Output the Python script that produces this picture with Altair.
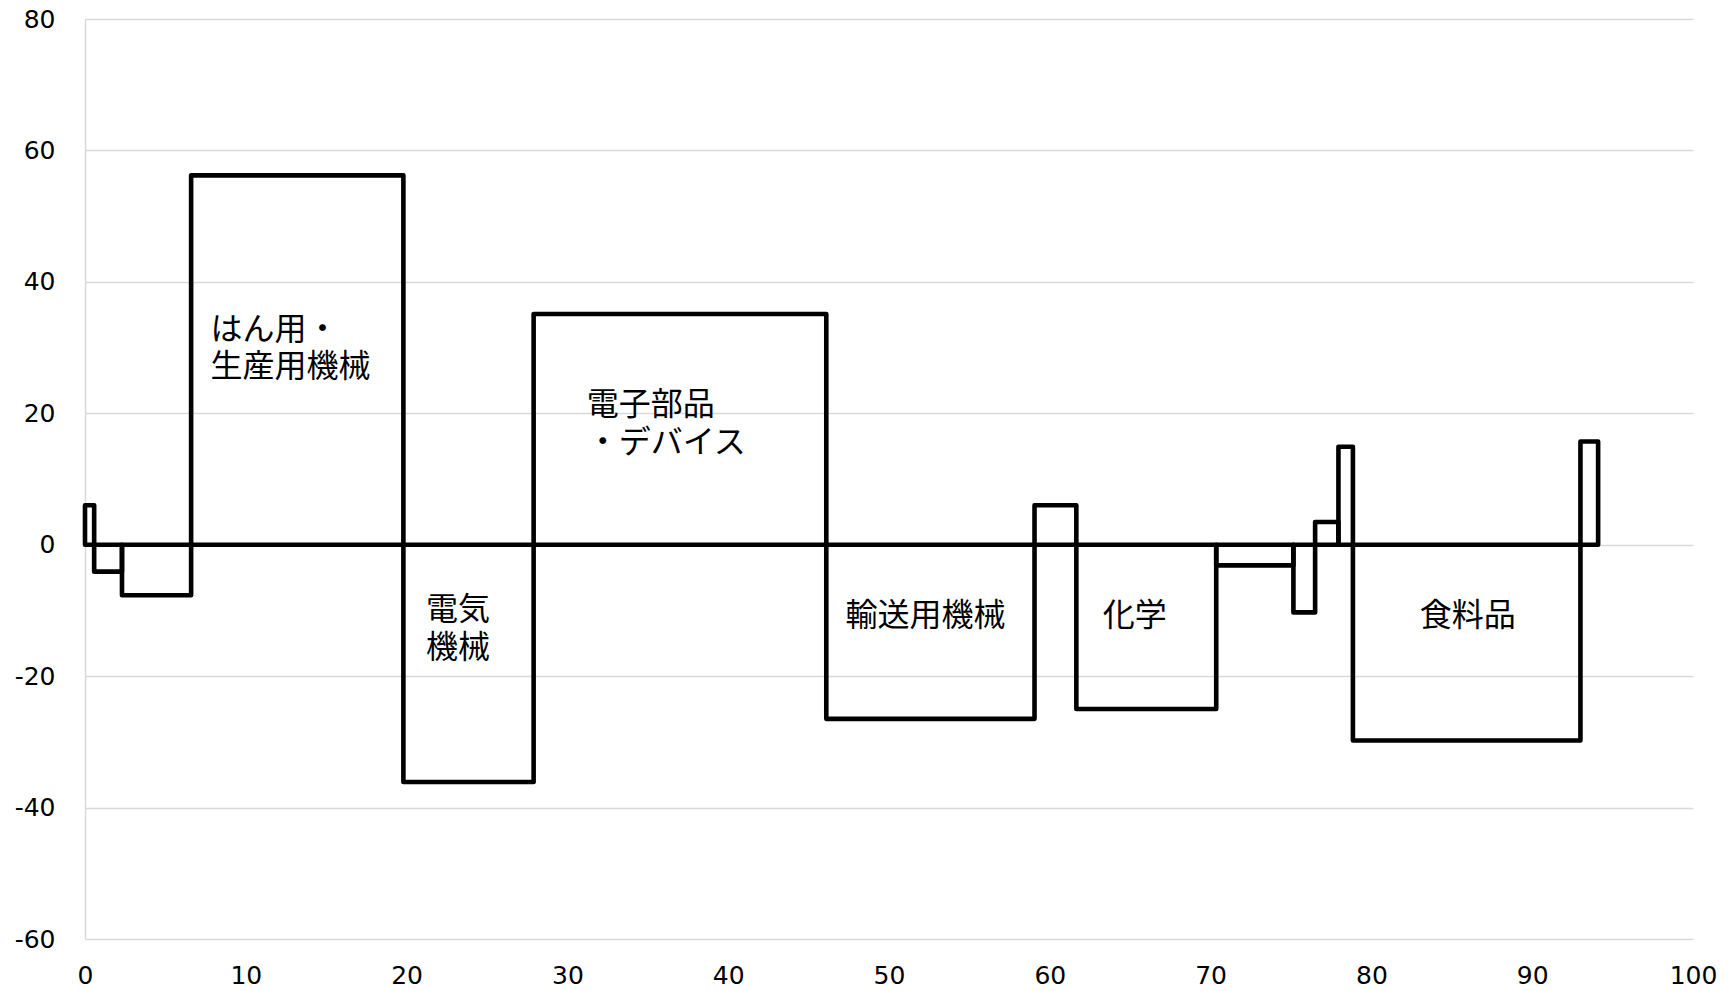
import altair as alt
import pandas as pd

# Column boundaries on the horizontal axis (cumulative share, 0-100)
edges = [0, 0.57, 2.3, 6.6, 19.8, 27.9, 46.1, 59.05, 61.65, 70.35,
         75.15, 76.5, 77.95, 78.85, 93.0, 94.1]
# Height of each column
values = [6.0, -4.1, -7.7, 56.2, -36.1, 35.1, -26.5, 6.0, -25.0, -3.15,
          -10.3, 3.45, 14.9, -29.8, 15.7]

# Industry labels, one entry per text line, and where each line sits
label_text = ["はん用・", "生産用機械", "電子部品", "・デバイス", "電気", "機械",
              "輸送用機械", "化学", "食料品"]
label_x = [7.8, 7.8, 31.2, 31.2, 21.2, 21.2, 47.3, 63.3, 83.0]
label_y = [32.7, 27.0, 21.2, 15.5, -9.9, -15.7, -10.9, -10.9, -10.9]

bars = pd.DataFrame({
    "x": edges[:-1],
    "x2": edges[1:],
    "y": values,
    "y2": [0] * len(values),
})
labels = pd.DataFrame({"text": label_text, "x": label_x, "y": label_y})

x_scale = alt.Scale(domain=[0, 100], nice=False, zero=False)
y_scale = alt.Scale(domain=[-60, 80], nice=False)

rects = alt.Chart(bars).mark_rect(
    fill="transparent", stroke="black", strokeWidth=4.6, strokeJoin="round"
).encode(
    x=alt.X("x:Q", scale=x_scale, axis=alt.Axis(
        values=list(range(0, 101, 10)), title=None, grid=False, domain=False,
        ticks=False, labelFontSize=25, labelFont="DejaVu Sans",
        labelColor="#000000", labelPadding=24, labelFlush=False,
        labelExpr="'' + datum.value")),
    x2="x2:Q",
    y=alt.Y("y:Q", scale=y_scale, axis=alt.Axis(
        values=list(range(-60, 81, 20)), title=None, grid=True,
        gridColor="#d9d9d9", gridWidth=1.3, domain=True, domainColor="#d9d9d9",
        domainWidth=1.5, ticks=False, labelFontSize=25, labelFont="DejaVu Sans",
        labelColor="#000000", labelPadding=30,
        labelExpr="'' + datum.value")),
    y2="y2:Q",
)

texts = alt.Chart(labels).mark_text(
    align="left", baseline="middle", fontSize=32, font="Noto Sans CJK JP",
    color="#000000"
).encode(
    x=alt.X("x:Q", scale=x_scale),
    y=alt.Y("y:Q", scale=y_scale),
    text="text:N",
)

chart = (rects + texts).properties(
    width=1608,
    height=920,
    padding={"left": 85, "top": 19, "right": 42, "bottom": 52},
    autosize=alt.AutoSizeParams(type="none"),
    background="white",
).configure_view(stroke=None)

chart.save("out.html", embed_options={"renderer": "svg", "actions": False})
